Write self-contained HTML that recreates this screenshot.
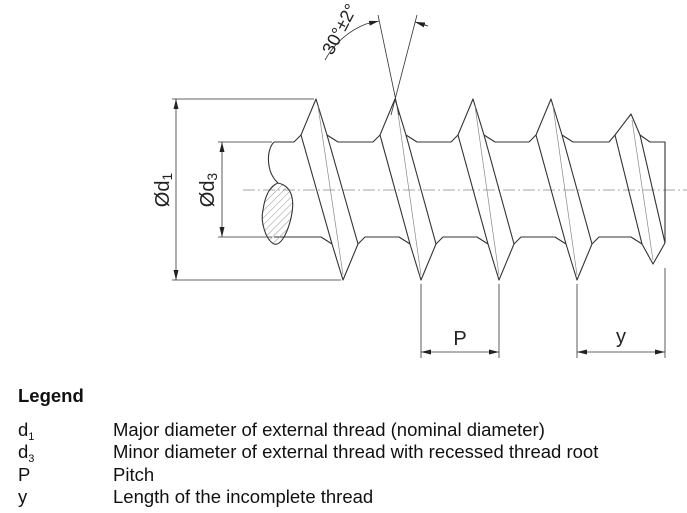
<!DOCTYPE html>
<html><head><meta charset="utf-8"><style>
body{margin:0;background:#fff;width:687px;height:513px;overflow:hidden;font-family:"Liberation Sans",Arial,sans-serif;}
.t{position:absolute;font-size:18.5px;line-height:1;color:#111;white-space:nowrap;}
sub{font-size:11px;vertical-align:-4px;}
</style></head><body>
<svg width="687" height="513" style="position:absolute;left:0;top:0" xmlns="http://www.w3.org/2000/svg">
<defs>
<marker id="a" markerWidth="10" markerHeight="6" refX="10" refY="3" orient="auto" markerUnits="userSpaceOnUse"><path d="M0,0.5 L10,3 L0,5.5z" fill="#222"/></marker>
<marker id="b" markerWidth="10" markerHeight="6" refX="0" refY="3" orient="auto" markerUnits="userSpaceOnUse"><path d="M10,0.5 L0,3 L10,5.5z" fill="#222"/></marker>
<pattern id="h" width="5" height="5" patternUnits="userSpaceOnUse" patternTransform="rotate(45)"><line x1="0" y1="0" x2="0" y2="5" stroke="#777" stroke-width="0.8"/></pattern>
</defs>
<g fill="none" stroke="#333" stroke-width="1.1" stroke-linejoin="round">
<line x1="243" y1="190" x2="687" y2="190" stroke="#888" stroke-width="0.8" stroke-dasharray="12,3,2,3"/>
<polyline points="274,142 294,142 301,135 316,99 327,135 338,142 373,142 380,135 395,99 406,135 417,142 451,142 458,135 473,99 484,135 495,142 529,142 536,135 551,99 562,135 573,142 609,142 615,135 631,114 640,135 650,142 665,142 665,243"/>
<polyline points="274,237 321,237 332,244 343,280 358,244 365,237 399,237 410,244 421,280 436,244 443,237 477,237 488,244 499,280 514,244 521,237 555,237 566,244 577,280 592,244 599,237 631,237 642,244 653,264 665,243"/>
<line x1="301" y1="135" x2="332" y2="244"/><line x1="327" y1="135" x2="358" y2="244"/>
<line x1="380" y1="135" x2="410" y2="244"/><line x1="406" y1="135" x2="436" y2="244"/>
<line x1="458" y1="135" x2="488" y2="244"/><line x1="484" y1="135" x2="514" y2="244"/>
<line x1="536" y1="135" x2="566" y2="244"/><line x1="562" y1="135" x2="592" y2="244"/>
<line x1="615" y1="135" x2="642" y2="244"/><line x1="640" y1="135" x2="665" y2="243"/>
<g stroke="#888" stroke-width="0.7">
<line x1="318" y1="106" x2="343" y2="275"/><line x1="397" y1="106" x2="421" y2="275"/>
<line x1="475" y1="106" x2="499" y2="275"/><line x1="553" y1="106" x2="577" y2="275"/>
<line x1="632" y1="120" x2="653" y2="260"/>
</g>
<path d="M274,142 C266,150 266,172 278,183"/>
<path d="M278,183 C292,186 296,200 290,222 C286,236 280,246 274,244 C266,240 260,222 263,210 C265,196 270,186 278,183Z" fill="url(#h)"/>
<g stroke-width="0.8">
<line x1="172" y1="99" x2="314" y2="99"/><line x1="172" y1="280" x2="341" y2="280"/>
<line x1="176" y1="99" x2="176" y2="280" marker-start="url(#b)" marker-end="url(#a)"/>
<line x1="218" y1="142" x2="272" y2="142"/><line x1="218" y1="237" x2="272" y2="237"/>
<line x1="222" y1="142" x2="222" y2="237" marker-start="url(#b)" marker-end="url(#a)"/>
<line x1="421" y1="284" x2="421" y2="358"/><line x1="499" y1="284" x2="499" y2="358"/>
<line x1="421" y1="352" x2="499" y2="352" marker-start="url(#b)" marker-end="url(#a)"/>
<line x1="577" y1="284" x2="577" y2="358"/><line x1="665" y1="268" x2="665" y2="358"/>
<line x1="577" y1="352" x2="665" y2="352" marker-start="url(#b)" marker-end="url(#a)"/>
<line x1="378" y1="15" x2="399" y2="115"/><line x1="417" y1="15" x2="391" y2="115"/>
<path d="M325,60 A80,80 0 0 1 366,24"/>
<line x1="366" y1="24" x2="379" y2="21" marker-end="url(#a)"/>
<path d="M415,22 A80,80 0 0 1 428,26"/>
<line x1="428" y1="26" x2="415" y2="22" marker-end="url(#a)"/>
</g>
</g>
<g font-family="Liberation Sans, Arial, sans-serif" font-size="20" fill="#222">
<text transform="translate(169,190) rotate(-90)" text-anchor="middle">Ød<tspan font-size="14" dy="3">1</tspan></text>
<text transform="translate(214,190) rotate(-90)" text-anchor="middle">Ød<tspan font-size="14" dy="3">3</tspan></text>
<text x="460" y="345" text-anchor="middle">P</text>
<text x="621" y="343" text-anchor="middle">y</text>
<text transform="translate(345,32) rotate(-62)" text-anchor="middle" font-size="18">30°±2°</text>
</g>
</svg>
<div class="t" style="left:18px;top:387px;font-weight:bold;">Legend</div>
<div class="t" style="left:18px;top:421px;">d<sub>1</sub></div>
<div class="t" style="left:113px;top:421px;">Major diameter of external thread (nominal diameter)</div>
<div class="t" style="left:18px;top:443px;">d<sub>3</sub></div>
<div class="t" style="left:113px;top:443px;">Minor diameter of external thread with recessed thread root</div>
<div class="t" style="left:18px;top:466px;">P</div>
<div class="t" style="left:113px;top:466px;">Pitch</div>
<div class="t" style="left:18px;top:488px;">y</div>
<div class="t" style="left:113px;top:488px;">Length of the incomplete thread</div>
</body></html>
